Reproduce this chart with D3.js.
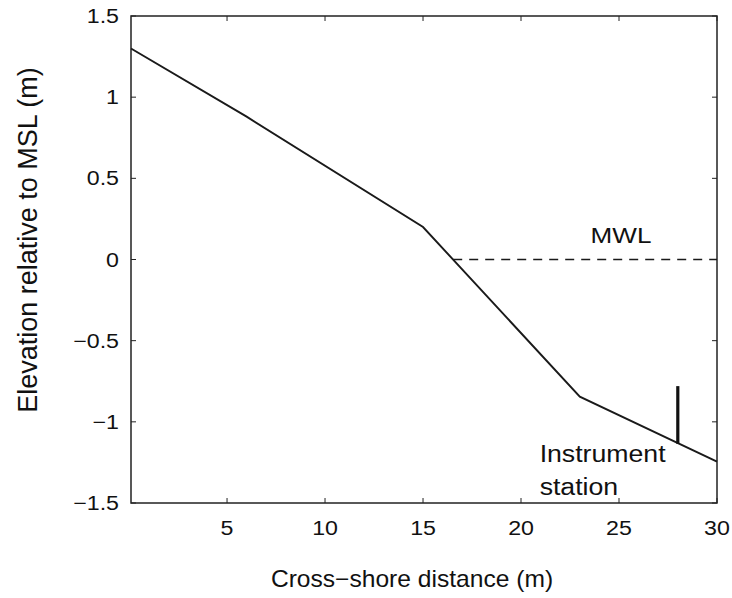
<!DOCTYPE html>
<html>
<head>
<meta charset="utf-8">
<script src="https://cdn.jsdelivr.net/npm/d3@7"></script>
<style>
  body { margin: 0; background: #fff; }
  text { font-family: "Liberation Sans", Arial, sans-serif; fill: #111; }
</style>
</head>
<body>
<div class="chart"></div>
<script>
// Data
const profileX = [0.1, 6, 15, 23, 30];
const profileY = [1.3, 0.88, 0.2, -0.845, -1.245];
const mwlX = [16.54, 30];
const mwlY = [0, 0];
const stationX = [28, 28];
const stationY = [-0.78, -1.135];
const xTicks = [5, 10, 15, 20, 25, 30];
const yTicks = [-1.5, -1, -0.5, 0, 0.5, 1, 1.5];
const yTickLabels = ["\u22121.5", "\u22121", "\u22120.5", "0", "0.5", "1", "1.5"];

const margin = { top: 16, right: 15, bottom: 95, left: 131 },
    W = 732, H = 598,
    width = W - margin.left - margin.right,
    height = H - margin.top - margin.bottom;

const x = d3.scaleLinear().domain([0.1, 30]).range([0, width]);
const y = d3.scaleLinear().domain([-1.5, 1.5]).range([height, 0]);

const svg = d3.select(".chart").append("svg")
    .attr("width", W)
    .attr("height", H);

const g = svg.append("g")
    .attr("transform", "translate(" + margin.left + "," + margin.top + ")");

// stretched text helper (figure text is a bit wide)
function label(parent, tx, ty, str, fs, sx, anchor) {
    return parent.append("text")
        .attr("transform", "translate(" + tx + "," + ty + ") scale(" + sx + ",1)")
        .attr("font-size", fs)
        .style("text-anchor", anchor || "start")
        .text(str);
}

// ticks (inside, mirrored on all sides)
const tickLen = 5;
xTicks.forEach(t => {
    g.append("line").attr("x1", x(t)).attr("x2", x(t)).attr("y1", height).attr("y2", height - tickLen)
        .attr("stroke", "#222").attr("stroke-width", 1);
    g.append("line").attr("x1", x(t)).attr("x2", x(t)).attr("y1", 0).attr("y2", tickLen)
        .attr("stroke", "#222").attr("stroke-width", 1);
    label(g, x(t), height + 32, t, 20, 1.16, "middle");
});
yTicks.forEach((t, i) => {
    g.append("line").attr("x1", 0).attr("x2", tickLen).attr("y1", y(t)).attr("y2", y(t))
        .attr("stroke", "#222").attr("stroke-width", 1);
    g.append("line").attr("x1", width).attr("x2", width - tickLen).attr("y1", y(t)).attr("y2", y(t))
        .attr("stroke", "#222").attr("stroke-width", 1);
    label(g, -12, y(t) + 7, yTickLabels[i], 20, 1.16, "end");
});

// box
g.append("rect")
    .attr("width", width).attr("height", height)
    .attr("fill", "none").attr("stroke", "#222").attr("stroke-width", 1.5);

const line = d3.line().x(d => x(d[0])).y(d => y(d[1]));

g.append("path")
    .datum(d3.zip(profileX, profileY))
    .attr("d", line)
    .attr("fill", "none").attr("stroke", "#1a1a1a").attr("stroke-width", 1.9);

g.append("path")
    .datum(d3.zip(mwlX, mwlY))
    .attr("d", line)
    .attr("fill", "none").attr("stroke", "#1a1a1a").attr("stroke-width", 1.3)
    .attr("stroke-dasharray", "9,7");

g.append("path")
    .datum(d3.zip(stationX, stationY))
    .attr("d", line)
    .attr("fill", "none").attr("stroke", "#111").attr("stroke-width", 3.2);

// annotations
label(g, x(23.55), y(0) - 17, "MWL", 22.5, 1.16, "start");
label(g, x(20.95), y(-1.245) + 0, "Instrument", 23, 1.16, "start");
label(g, x(20.95), y(-1.245) + 33, "station", 23, 1.16, "start");

// axis titles
label(svg, 412, 587, "Cross\u2212shore distance (m)", 23, 1.07, "middle");
svg.append("text")
    .attr("transform", "translate(37,240) rotate(-90)")
    .attr("font-size", 27)
    .style("text-anchor", "middle")
    .text("Elevation relative to MSL (m)");
</script>
</body>
</html>
